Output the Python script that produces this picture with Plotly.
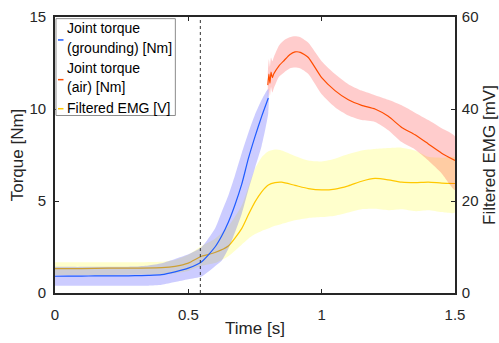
import plotly.graph_objects as go

# ---------------- data ----------------
# Joint torque during grounding phase [Nm]
t_ground = [0.0, 0.05, 0.1, 0.15, 0.2, 0.25, 0.3, 0.35, 0.4, 0.45, 0.5, 0.55, 0.6,
            0.625, 0.65, 0.675, 0.7, 0.725, 0.75, 0.775, 0.8]
tq_ground = [0.91, 0.92, 0.92, 0.93, 0.93, 0.93, 0.94, 0.96, 1.0, 1.15, 1.35, 1.7, 2.5,
             3.1, 3.85, 4.8, 5.9, 7.3, 8.5, 9.6, 10.6]
tq_ground_hi = [1.42, 1.42, 1.42, 1.43, 1.43, 1.43, 1.44, 1.5, 1.62, 1.85, 2.1, 2.5, 3.5,
                4.4, 5.3, 6.4, 7.6, 8.7, 9.7, 10.5, 11.1]
tq_ground_lo = [0.4, 0.4, 0.4, 0.4, 0.4, 0.4, 0.4, 0.4, 0.45, 0.6, 0.75, 0.9, 1.45,
                1.75, 2.4, 3.3, 4.3, 5.6, 6.8, 8.0, 9.8]

# Joint torque during air phase [Nm]
t_air = [0.798, 0.802, 0.806, 0.81, 0.815, 0.82, 0.84, 0.86, 0.88, 0.9, 0.92, 0.95,
         1.0, 1.05, 1.1, 1.15, 1.2, 1.25, 1.3, 1.35, 1.4, 1.45, 1.5]
tq_air = [11.3, 11.9, 11.4, 12.0, 11.7, 11.9, 12.35, 12.65, 12.95, 13.1, 13.08, 12.8,
          11.7, 11.0, 10.5, 10.2, 10.0, 9.6, 9.0, 8.6, 8.1, 7.6, 7.2]
tq_air_hi = [12.0, 12.7, 12.3, 12.8, 12.6, 12.8, 13.45, 13.75, 13.9, 13.95, 13.9, 13.6,
             12.6, 11.9, 11.35, 11.0, 10.75, 10.5, 10.2, 9.8, 9.4, 8.95, 8.5]
tq_air_lo = [10.6, 11.1, 10.7, 11.2, 10.9, 11.1, 11.75, 12.0, 12.2, 12.25, 12.2, 11.9,
             10.8, 10.1, 9.65, 9.4, 9.3, 8.85, 8.2, 7.8, 7.2, 6.5, 5.6]

# Filtered EMG [mV]
t_emg = [0.0, 0.1, 0.2, 0.3, 0.4, 0.45, 0.5, 0.55, 0.6, 0.65, 0.7, 0.725, 0.75, 0.775,
         0.8, 0.825, 0.85, 0.9, 0.95, 1.0, 1.05, 1.1, 1.15, 1.2, 1.25, 1.3, 1.35, 1.4,
         1.45, 1.5]
emg = [5.3, 5.3, 5.4, 5.4, 5.5, 5.8, 6.5, 8.0, 8.8, 10.2, 14.0, 17.0, 19.8, 22.0,
       23.5, 24.0, 24.1, 23.4, 22.7, 22.4, 22.6, 23.3, 24.3, 24.9, 24.6, 24.1, 24.0, 24.1,
       23.9, 23.8]
emg_hi = [6.7, 6.7, 6.7, 6.7, 6.8, 7.2, 8.3, 10.2, 11.8, 14.5, 19.0, 23.0, 27.0, 29.5,
          30.8, 31.2, 31.0, 29.8, 28.8, 28.6, 29.2, 30.2, 31.0, 31.3, 31.5, 31.6, 31.0, 29.6,
          29.4, 29.5]
emg_lo = [3.9, 3.9, 3.9, 4.0, 4.1, 4.3, 4.8, 5.9, 6.5, 8.0, 10.5, 11.8, 12.8, 13.5,
          14.0, 14.6, 15.0, 15.8, 16.3, 16.5, 16.8, 17.5, 18.2, 18.3, 18.0, 18.2, 17.8, 18.0,
          17.6, 17.5]

t_event = 0.545  # dotted marker

x_ticks = [0, 0.5, 1, 1.5]
x_ticktext = ["0", "0.5", "1", "1.5"]
tq_ticks = [0, 5, 10, 15]
emg_ticks = [0, 20, 40, 60]

legend_names = ["Joint torque<br>(grounding) [Nm]", "Joint torque<br>(air) [Nm]",
                "Filtered EMG [V]"]

# ---------------- style ----------------
FONT = "Liberation Sans, Arial, Helvetica, sans-serif"
AX = "#262626"
c_blue, f_blue = "#1f5cff", "rgba(0,0,255,0.2)"
c_orange, f_orange = "#ff4d00", "rgba(255,0,0,0.2)"
c_yellow, f_yellow = "#ffc800", "rgba(255,255,0,0.2)"

fig = go.Figure()


def band(t, lo, hi, color, yaxis):
    fig.add_trace(go.Scatter(
        x=list(t) + list(t)[::-1], y=list(hi) + list(lo)[::-1],
        fill="toself", fillcolor=color, line=dict(width=0, shape="spline", smoothing=0.6),
        mode="lines", hoverinfo="skip", showlegend=False, yaxis=yaxis))


# EMG on primary y (right side, drawn underneath)
band(t_emg, emg_lo, emg_hi, f_yellow, "y")
fig.add_trace(go.Scatter(x=t_emg, y=emg, mode="lines", name=legend_names[2],
                         line=dict(color=c_yellow, width=1.2, shape="spline", smoothing=0.6),
                         showlegend=False, yaxis="y"))

# Torques on y2 (left side, overlaying)
band(t_ground, tq_ground_lo, tq_ground_hi, f_blue, "y2")
band(t_air, tq_air_lo, tq_air_hi, f_orange, "y2")
fig.add_trace(go.Scatter(x=t_ground, y=tq_ground, mode="lines", name=legend_names[0],
                         line=dict(color=c_blue, width=1.2, shape="spline", smoothing=0.6),
                         showlegend=False, yaxis="y2"))
fig.add_trace(go.Scatter(x=t_air, y=tq_air, mode="lines", name=legend_names[1],
                         line=dict(color=c_orange, width=1.2, shape="spline", smoothing=0.5),
                         showlegend=False, yaxis="y2"))

# plot area geometry (px)
W, H = 499, 343
L, R, T, B = 54.5, 455.0, 8.3, 293.3


def px(x):
    return (x - L) / (R - L)


def py(y):
    return (B - y) / (B - T)


fig.add_shape(type="line", xref="x", yref="paper", x0=t_event, x1=t_event, y0=0, y1=1,
              line=dict(color="#333333", width=1, dash="dot"))

# legend (manual, MATLAB-like)
fig.add_shape(type="rect", xref="paper", yref="paper", x0=px(55.5), x1=px(175), y0=py(10),
              y1=py(110), line=dict(color="#8c8c8c", width=1), fillcolor="white", layer="above")
for yy, col in [(32, c_blue), (73, c_orange), (103, c_yellow)]:
    fig.add_shape(type="line", xref="paper", yref="paper", x0=px(57.5), x1=px(63), y0=py(yy),
                  y1=py(yy), line=dict(color=col, width=1.5), layer="above")
lines = ["Joint torque", "(grounding) [Nm]", "Joint torque", "(air) [Nm]", "Filtered EMG [V]"]
for txt, yy in zip(lines, [20, 40, 61, 81, 102]):
    fig.add_annotation(text=txt, xref="paper", yref="paper", x=px(65), y=py(yy),
                       xanchor="left", yanchor="middle", showarrow=False,
                       font=dict(family=FONT, size=14, color="#000000"))

axis_common = dict(showline=True, linecolor=AX, linewidth=1.6, ticks="inside", ticklen=4,
                   tickcolor=AX, tickwidth=1.3, showgrid=False, zeroline=False,
                   ticklabeloverflow="allow",
                   tickfont=dict(family=FONT, size=15, color=AX))

fig.update_layout(
    width=W, height=H,
    margin=dict(l=L, r=W - R, t=T, b=H - B, pad=0),
    paper_bgcolor="white", plot_bgcolor="white",
    showlegend=False,
    font=dict(family=FONT, size=15, color=AX),
    xaxis=dict(range=[0, 1.5], tickvals=x_ticks, ticktext=x_ticktext, mirror="ticks",
               ticklabelstandoff=7, automargin=False,
               title=dict(text="Time [s]", font=dict(family=FONT, size=17, color=AX),
                          standoff=0),
               **axis_common),
    yaxis=dict(range=[0, 60], tickvals=emg_ticks, side="right", ticklabelstandoff=2,
               automargin=False,
               title=dict(text="Filtered EMG [mV]", font=dict(family=FONT, size=17, color=AX),
                          standoff=6),
               **axis_common),
    yaxis2=dict(range=[0, 15], tickvals=tq_ticks, side="left", overlaying="y",
                ticklabelstandoff=4, automargin=True,
                title=dict(text="Torque [Nm]", font=dict(family=FONT, size=17, color=AX),
                           standoff=2),
                **axis_common),
)

fig.write_html("out.html")
